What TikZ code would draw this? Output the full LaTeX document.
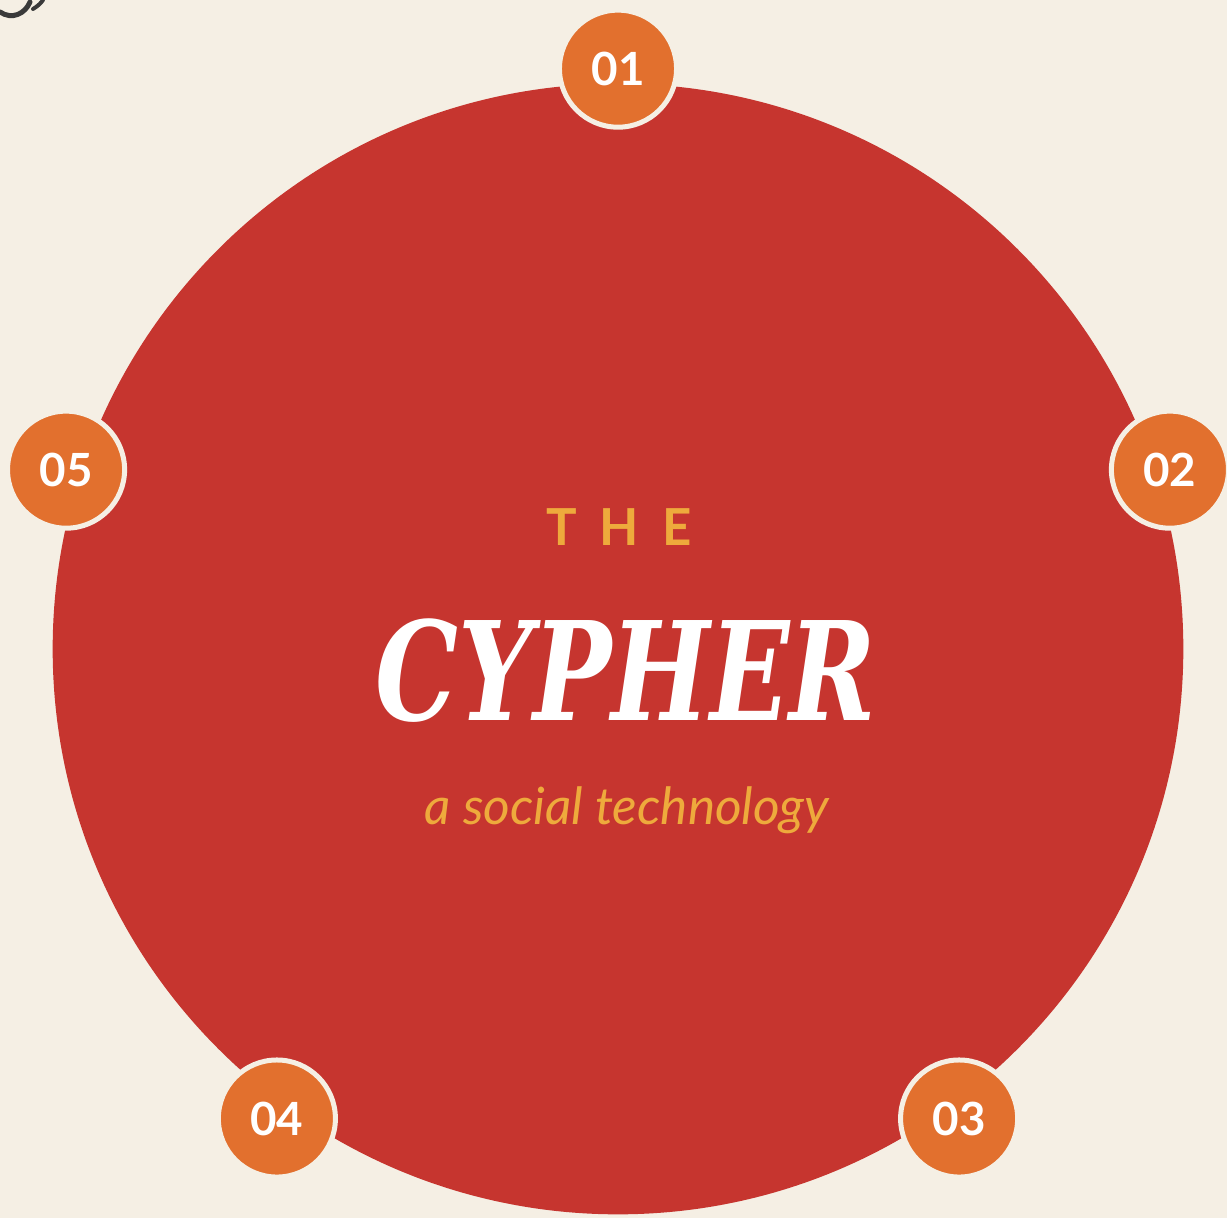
\documentclass[tikz,border=0pt]{standalone}
\usepackage{fontspec}
\setmainfont{Lato}
\newfontfamily\titlefont{DejaVu Serif}
\usetikzlibrary{positioning,calc}

\definecolor{cream}{HTML}{F5EFE4}
\definecolor{cypherred}{HTML}{C6352F}
\definecolor{steporange}{HTML}{E2702E}
\definecolor{gold}{HTML}{EEAA3C}
\definecolor{ink}{HTML}{3A3A3A}

\begin{document}
\begin{tikzpicture}[
  x=0.01cm, y=-0.01cm,
  every node/.style={align=center},
  disc/.style={circle,fill=cypherred,minimum size=11.3cm,inner sep=0pt},
  stepdot/.style={circle,fill=steporange,draw=cream,line width=0.05cm,
    minimum size=11.7mm,inner sep=0pt,text=white,font=\bfseries\fontsize{13}{14}\selectfont},
  kicker/.style={text=gold,font=\bfseries\fontsize{14.5}{16}\selectfont},
  tagline/.style={text=gold,font=\itshape\fontsize{14.6}{16}\selectfont}]

  % background and page size
  \fill[cream] (0,0) rectangle (1227,1218);
  \useasboundingbox (0,0) rectangle (1227,1218);

  % leftover pen stroke in the corner
  \draw[ink,line width=0.05cm,line cap=round] (0,12) .. controls (12,20) and (25,14) .. (30,2);
  \draw[ink,line width=0.04cm,line cap=round] (33,9) .. controls (38,6) and (41,3) .. (43,0);

  % the big circle
  \node[disc] (cypher) at (618,649) {};

  % title
  \node[kicker] (the) at (619,527) {T\hspace{0.45em}H\hspace{0.45em}E};
  \node[text=white,font=\titlefont\bfseries\itshape\fontsize{39}{42}\selectfont,xscale=0.76]
    (name) at (626,671) {CYPHER};
  \node[tagline] (sub) at (627,810) {a social technology};

  % numbered steps round the rim
  \foreach \ang/\num in {90/01,18/02,-54/03,-126/04,162/05}
    \node[stepdot] (step\num) at ($(cypher.center)+(\ang:5.8cm)$) {\num};
\end{tikzpicture}
\end{document}
